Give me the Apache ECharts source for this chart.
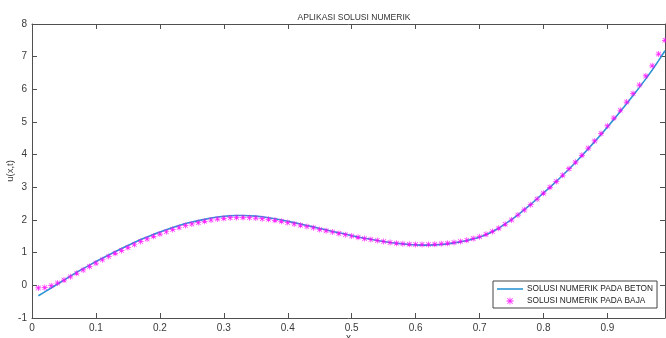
<!DOCTYPE html>
<html><head><meta charset="utf-8">
<script src="https://cdn.jsdelivr.net/npm/echarts@6/dist/echarts.min.js"></script>
<style>html,body{margin:0;padding:0;background:#fff}#c{width:666px;height:338px}</style>
</head><body><div id="c"></div>
<script>
var xValues = [0.01,0.02,0.03,0.04,0.05,0.06,0.07,0.08,0.09,0.10,0.11,0.12,0.13,0.14,0.15,0.16,0.17,0.18,0.19,0.20,0.21,0.22,0.23,0.24,0.25,0.26,0.27,0.28,0.29,0.30,0.31,0.32,0.33,0.34,0.35,0.36,0.37,0.38,0.39,0.40,0.41,0.42,0.43,0.44,0.45,0.46,0.47,0.48,0.49,0.50,0.51,0.52,0.53,0.54,0.55,0.56,0.57,0.58,0.59,0.60,0.61,0.62,0.63,0.64,0.65,0.66,0.67,0.68,0.69,0.70,0.71,0.72,0.73,0.74,0.75,0.76,0.77,0.78,0.79,0.80,0.81,0.82,0.83,0.84,0.85,0.86,0.87,0.88,0.89,0.90,0.91,0.92,0.93,0.94,0.95,0.96,0.97,0.98,0.99];
var betonValues = [-0.32,-0.20,-0.08,0.04,0.16,0.28,0.40,0.51,0.62,0.73,0.83,0.93,1.03,1.13,1.22,1.31,1.40,1.48,1.56,1.63,1.70,1.77,1.83,1.89,1.94,1.98,2.02,2.06,2.09,2.11,2.13,2.14,2.14,2.13,2.12,2.10,2.07,2.04,2.00,1.96,1.92,1.88,1.83,1.79,1.74,1.70,1.65,1.61,1.57,1.52,1.48,1.44,1.41,1.37,1.34,1.31,1.29,1.27,1.25,1.24,1.23,1.23,1.24,1.25,1.27,1.30,1.33,1.37,1.42,1.47,1.55,1.64,1.75,1.88,2.01,2.16,2.32,2.48,2.65,2.83,3.00,3.18,3.37,3.56,3.76,3.97,4.18,4.40,4.62,4.85,5.08,5.32,5.56,5.81,6.06,6.32,6.59,6.88,7.18];
var bajaValues = [-0.08,-0.07,-0.01,0.07,0.16,0.26,0.37,0.47,0.58,0.68,0.78,0.88,0.98,1.07,1.16,1.25,1.34,1.42,1.50,1.57,1.64,1.71,1.77,1.83,1.88,1.92,1.96,2.00,2.03,2.05,2.07,2.08,2.08,2.07,2.06,2.04,2.02,1.99,1.96,1.92,1.88,1.84,1.80,1.76,1.71,1.67,1.63,1.59,1.55,1.51,1.47,1.43,1.40,1.37,1.34,1.31,1.29,1.27,1.26,1.25,1.25,1.25,1.26,1.27,1.29,1.31,1.34,1.38,1.43,1.49,1.56,1.65,1.75,1.87,2.00,2.15,2.31,2.47,2.64,2.82,3.00,3.18,3.37,3.57,3.77,3.98,4.20,4.42,4.65,4.88,5.12,5.36,5.61,5.87,6.13,6.41,6.72,7.08,7.50];
var xTicks = [0,0.1,0.2,0.3,0.4,0.5,0.6,0.7,0.8,0.9];
var yTicks = [-1,0,1,2,3,4,5,6,7,8];
var titleText = 'APLIKASI SOLUSI NUMERIK';
var seriesNames = ['SOLUSI NUMERIK PADA BETON','SOLUSI NUMERIK PADA BAJA'];

var star = 'path://M4.4,0H5.6V4.4H10V5.6H5.6V10H4.4V5.6H0V4.4H4.4Z M0.8,1.6L1.6,0.8L9.2,8.4L8.4,9.2Z M8.4,0.8L9.2,1.6L1.6,9.2L0.8,8.4Z';
var lineIcon = 'path://M0,0H26V1.6H0Z';
var font = 'Liberation Sans';
var axisCol = '#505050';
var labCol = '#3a3a3a';
function zip(xs, ys){ return xs.map(function(x,i){return [x, ys[i]];}); }
function xLabel(v){
  for (var i = 0; i < xTicks.length; i++) { if (Math.abs(v - xTicks[i]) < 1e-6) return String(xTicks[i]); }
  return '';
}

var chart = echarts.init(document.getElementById('c'), null, {renderer:'canvas'});
var baseX = {type:'value', min:xTicks[0], max:0.99, interval:0.1,
  axisLine:{show:true, onZero:false, lineStyle:{color:axisCol, width:1}},
  axisTick:{show:true, inside:true, length:5, lineStyle:{color:axisCol}},
  splitLine:{show:false}};
var baseY = {type:'value', min:yTicks[0], max:yTicks[yTicks.length-1], interval:1,
  axisLine:{show:true, onZero:false, lineStyle:{color:axisCol, width:1}},
  axisTick:{show:true, inside:true, length:5, lineStyle:{color:axisCol}},
  splitLine:{show:false}};
chart.setOption({
  animation:false,
  backgroundColor:'#fff',
  title:{text:titleText, left:349, top:8, textAlign:'center',
    textStyle:{fontFamily:font, fontSize:8.5, fontWeight:'normal', color:'#333'}},
  grid:{left:32, right:1, top:24, bottom:20, containLabel:false, outerBoundsMode:'none'},
  legend:{orient:'vertical', left:493, top:281, itemWidth:26, itemHeight:7, itemGap:4,
    padding:[4,4,3,4], borderColor:'#444', borderWidth:1, backgroundColor:'#fff',
    textStyle:{fontFamily:font, fontSize:8.3, color:'#222', padding:[0,0,0,-1]},
    data:[{name:seriesNames[0], icon:lineIcon, itemStyle:{color:'#2b95d4'}},{name:seriesNames[1], icon:star}]},
  xAxis:[
    Object.assign({}, baseX, {position:'bottom', name:'x', nameLocation:'middle', nameGap:15, nameMoveOverlap:false,
      nameTextStyle:{fontFamily:font, fontSize:10, color:labCol},
      axisLabel:{fontFamily:font, fontSize:10, color:labCol, margin:5, showMaxLabel:false, formatter:xLabel}}),
    Object.assign({}, baseX, {position:'top', axisLabel:{show:false}})
  ],
  yAxis:[
    Object.assign({}, baseY, {position:'left', name:'u(x,t)', nameLocation:'middle', nameGap:17, nameRotate:90, nameMoveOverlap:false,
      nameTextStyle:{fontFamily:font, fontSize:9.5, color:labCol},
      axisLabel:{fontFamily:font, fontSize:10, color:labCol, margin:5}}),
    Object.assign({}, baseY, {position:'right', axisLabel:{show:false}})
  ],
  series:[
    {name:seriesNames[0], type:'line', xAxisIndex:0, yAxisIndex:0, data:zip(xValues, betonValues),
      showSymbol:false, symbol:'none', smooth:false, lineStyle:{color:'#2b95d4', width:1.6}, itemStyle:{color:'#2b95d4'}, z:2},
    {name:seriesNames[1], type:'scatter', xAxisIndex:0, yAxisIndex:0, data:zip(xValues, bajaValues),
      symbol:star, symbolSize:6, itemStyle:{color:'#ff00ff', opacity:0.85}, z:3, clip:false}
  ]
});
</script></body></html>
